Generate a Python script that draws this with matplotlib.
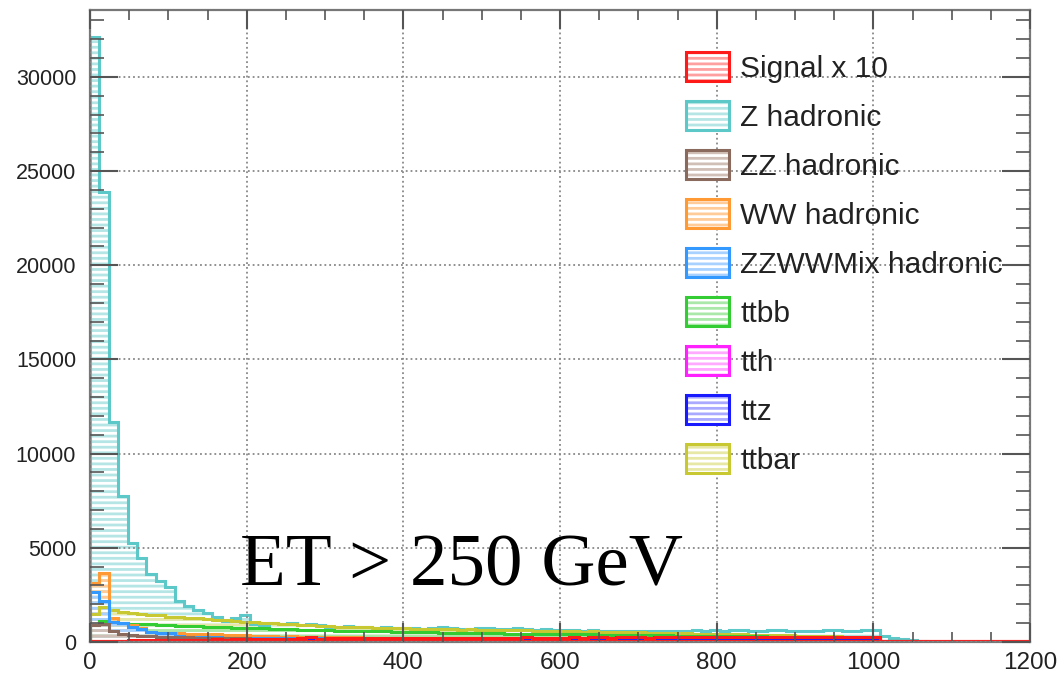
import numpy as np
import matplotlib.pyplot as plt
from matplotlib.patches import Patch

# 100 bins of 12 GeV between 0 and 1200
bin_edges = np.linspace(0, 1200, 101)

signal_x10 = [
    0, 0, 0, 0, 80, 90, 100, 110, 100, 120,
    110, 130, 120, 140, 130, 150, 180, 140, 150, 160,
    180, 170, 190, 260, 180, 200, 190, 210, 200, 190,
    210, 200, 220, 200, 190, 210, 230, 200, 220, 210,
    200, 220, 210, 230, 200, 220, 240, 210, 220, 230,
    230, 240, 220, 250, 240, 230, 260, 240, 250, 230,
    250, 260, 240, 270, 250, 260, 240, 270, 260, 250,
    280, 260, 270, 250, 280, 270, 260, 280, 270, 290,
    260, 280, 270, 260, 0, 0, 0, 0, 0, 0,
    0, 0, 0, 0, 0, 0, 0, 0, 0, 0,
]
z_hadronic = [
    32100, 23900, 11700, 7750, 5270, 4460, 3610, 3250, 2900, 2150,
    1900, 1700, 1550, 1350, 1100, 1250, 1420, 950, 900, 1000,
    950, 1000, 920, 980, 900, 820, 800, 840, 780, 800,
    760, 790, 740, 720, 760, 700, 740, 780, 720, 700,
    690, 760, 720, 680, 700, 740, 690, 660, 700, 650,
    640, 620, 600, 640, 600, 580, 600, 560, 590, 570,
    560, 600, 580, 560, 640, 600, 660, 560, 640, 650,
    590, 560, 620, 640, 580, 560, 600, 560, 640, 650,
    560, 580, 660, 620, 300, 200, 150, 100, 60, 20,
    0, 0, 0, 0, 0, 0, 0, 0, 0, 0,
]
zz_hadronic = [
    900, 950, 600, 450, 380, 330, 300, 280, 260, 250,
    240, 230, 220, 210, 200, 200, 190, 180, 180, 170,
    170, 160, 160, 150, 150, 150, 140, 140, 140, 130,
    130, 130, 120, 120, 120, 120, 110, 110, 110, 110,
    100, 100, 100, 100, 100, 90, 90, 90, 90, 90,
    90, 80, 80, 80, 80, 80, 80, 70, 70, 70,
    70, 70, 70, 60, 60, 60, 60, 60, 60, 60,
    50, 50, 50, 50, 50, 50, 50, 40, 40, 40,
    40, 40, 40, 40, 0, 0, 0, 0, 0, 0,
    0, 0, 0, 0, 0, 0, 0, 0, 0, 0,
]
ww_hadronic = [
    3150, 3650, 1300, 1000, 900, 750, 550, 500, 480, 460,
    450, 440, 430, 400, 380, 360, 350, 330, 320, 300,
    290, 300, 280, 270, 260, 280, 250, 240, 250, 230,
    220, 230, 210, 200, 220, 200, 190, 210, 200, 190,
    200, 210, 190, 200, 180, 200, 190, 180, 200, 190,
    180, 190, 200, 180, 170, 190, 180, 170, 180, 190,
    170, 180, 170, 160, 180, 170, 160, 170, 180, 160,
    170, 160, 150, 170, 160, 150, 160, 170, 150, 160,
    150, 160, 150, 140, 60, 30, 20, 10, 0, 0,
    0, 0, 0, 0, 0, 0, 0, 0, 0, 0,
]
zzww_hadronic = [
    2650, 2150, 1050, 1000, 800, 700, 520, 500, 480, 300,
    280, 260, 250, 240, 230, 220, 210, 220, 200, 210,
    200, 190, 210, 200, 190, 180, 200, 190, 180, 190,
    180, 170, 190, 180, 170, 180, 160, 170, 180, 160,
    170, 160, 150, 170, 160, 150, 160, 150, 140, 160,
    150, 140, 150, 140, 150, 130, 140, 150, 130, 140,
    130, 140, 120, 130, 140, 120, 130, 120, 130, 110,
    120, 130, 110, 120, 110, 120, 100, 110, 120, 100,
    110, 100, 110, 100, 30, 20, 10, 0, 0, 0,
    0, 0, 0, 0, 0, 0, 0, 0, 0, 0,
]
ttbb = [
    900, 1100, 1050, 1000, 980, 950, 930, 900, 880, 860,
    850, 830, 810, 800, 780, 760, 750, 730, 720, 700,
    690, 680, 660, 650, 640, 620, 610, 600, 590, 580,
    570, 560, 550, 540, 530, 520, 510, 500, 500, 490,
    480, 470, 470, 460, 450, 450, 440, 430, 430, 420,
    410, 410, 400, 400, 390, 380, 380, 370, 370, 360,
    350, 350, 340, 340, 330, 330, 320, 320, 310, 310,
    300, 300, 290, 290, 280, 280, 270, 270, 260, 260,
    250, 250, 240, 240, 0, 0, 0, 0, 0, 0,
    0, 0, 0, 0, 0, 0, 0, 0, 0, 0,
]
tth = [
    0, 0, 0, 0, 30, 40, 40, 50, 50, 50,
    50, 60, 60, 60, 60, 60, 60, 70, 60, 70,
    70, 70, 70, 70, 80, 70, 80, 70, 80, 80,
    80, 80, 80, 80, 80, 80, 80, 80, 80, 80,
    80, 80, 80, 80, 80, 80, 80, 80, 80, 80,
    80, 80, 80, 80, 80, 80, 80, 80, 80, 80,
    80, 80, 80, 80, 80, 80, 80, 80, 80, 80,
    80, 80, 80, 80, 80, 80, 80, 80, 80, 80,
    80, 80, 80, 80, 0, 0, 0, 0, 0, 0,
    0, 0, 0, 0, 0, 0, 0, 0, 0, 0,
]
ttz = [
    0, 0, 0, 0, 40, 50, 50, 60, 60, 60,
    60, 70, 70, 70, 70, 70, 80, 80, 80, 80,
    80, 90, 90, 90, 90, 90, 90, 90, 90, 90,
    90, 90, 90, 90, 90, 90, 90, 90, 90, 90,
    90, 90, 90, 90, 90, 90, 90, 90, 90, 90,
    90, 90, 90, 90, 90, 90, 90, 90, 90, 90,
    90, 90, 90, 90, 90, 90, 90, 90, 90, 90,
    90, 90, 90, 90, 90, 90, 90, 90, 90, 90,
    90, 90, 90, 90, 0, 0, 0, 0, 0, 0,
    0, 0, 0, 0, 0, 0, 0, 0, 0, 0,
]
ttbar = [
    1500, 1850, 1700, 1600, 1560, 1500, 1440, 1420, 1350, 1310,
    1280, 1260, 1200, 1190, 1150, 1110, 1080, 1060, 1000, 990,
    950, 940, 900, 890, 860, 850, 820, 810, 790, 780,
    760, 750, 730, 720, 700, 710, 690, 680, 670, 660,
    670, 650, 640, 650, 630, 620, 640, 610, 600, 610,
    560, 570, 550, 560, 540, 540, 530, 520, 510, 500,
    490, 480, 470, 460, 450, 440, 430, 420, 410, 400,
    390, 380, 370, 360, 350, 340, 330, 320, 310, 300,
    290, 280, 270, 260, 0, 0, 0, 0, 0, 0,
    0, 0, 0, 0, 0, 0, 0, 0, 0, 0,
]

labels = ["Signal x 10", "Z hadronic", "ZZ hadronic", "WW hadronic",
          "ZZWWMix hadronic", "ttbb", "tth", "ttz", "ttbar"]
series = [signal_x10, z_hadronic, zz_hadronic, ww_hadronic,
          zzww_hadronic, ttbb, tth, ttz, ttbar]
line_colors = ["#ff1a1a", "#5cc8c8", "#8a6a5c", "#ff9933",
               "#3399ff", "#33cc33", "#ff22ff", "#1a1aff", "#c8c832"]
hatch_colors = ["#ffa0a0", "#b5e5e5", "#d0bfb6", "#ffcc99",
                "#a9d1ff", "#a9e8a9", "#ffa9ff", "#a9a9ff", "#e8e8a6"]


def main():
    plt.rcParams['font.family'] = ['Liberation Sans', 'DejaVu Sans']
    plt.rcParams['hatch.linewidth'] = 2.0

    fig = plt.figure(figsize=(10.58, 6.78), dpi=100)
    ax = fig.add_axes([90 / 1058, 36 / 678, 940 / 1058, 632 / 678])

    # draw order: biggest first so the small ones stay visible
    order = [1, 8, 5, 3, 4, 2, 6, 7, 0]
    for i in order:
        ax.stairs(series[i], bin_edges, fill=True, facecolor="none",
                  edgecolor=hatch_colors[i], hatch="---", linewidth=0)
    for i in order:
        ax.stairs(series[i], bin_edges, color=line_colors[i], linewidth=2.2,
                  baseline=0)
    # ROOT draws the signal outline along the zero line too
    ax.axhline(0, color=line_colors[0], linewidth=3)

    ax.set_xlim(0, 1200)
    ax.set_ylim(0, 33550)
    ax.set_xticks(np.arange(0, 1201, 200))
    ax.set_xticks(np.arange(0, 1201, 50), minor=True)
    ax.set_yticks(np.arange(0, 30001, 5000))
    ax.set_yticks(np.arange(0, 33001, 1000), minor=True)

    ax.tick_params(which="both", direction="in", top=True, right=True,
                   colors="#555555", labelcolor="#222222")
    ax.tick_params(axis="y", which="major", length=20, width=1.5, pad=10,
                   labelsize=15.5)
    ax.tick_params(axis="y", which="minor", length=10, width=1.2)
    ax.tick_params(axis="x", which="major", length=14, width=1.5, pad=7,
                   labelsize=17.5)
    ax.tick_params(axis="x", which="minor", length=7, width=1.2)

    for sp in ax.spines.values():
        sp.set_color("#777777")
        sp.set_linewidth(1.6)

    ax.grid(True, which="major", linestyle=":", color="#888888", linewidth=1.3)
    ax.set_axisbelow(False)

    # legend with hatched boxes
    handles = []
    for i in range(len(labels)):
        fill = Patch(facecolor="white", edgecolor=hatch_colors[i], hatch="---",
                     linewidth=0)
        edge = Patch(facecolor="none", edgecolor=line_colors[i], linewidth=2.2)
        handles.append((fill, edge))
    ax.legend(handles, labels, loc="upper left", bbox_to_anchor=(0.621, 0.952),
              frameon=False, fontsize=21.5, handlelength=1.45, handleheight=1.1,
              handletextpad=0.38, labelspacing=0.62, borderaxespad=0,
              labelcolor="#222222")

    ax.text(192, 3000, "ET > 250 GeV", family="Liberation Serif", fontsize=54,
            va="baseline", ha="left", color="black")

    fig.savefig("out.png", dpi=100)


if __name__ == "__main__":
    main()
